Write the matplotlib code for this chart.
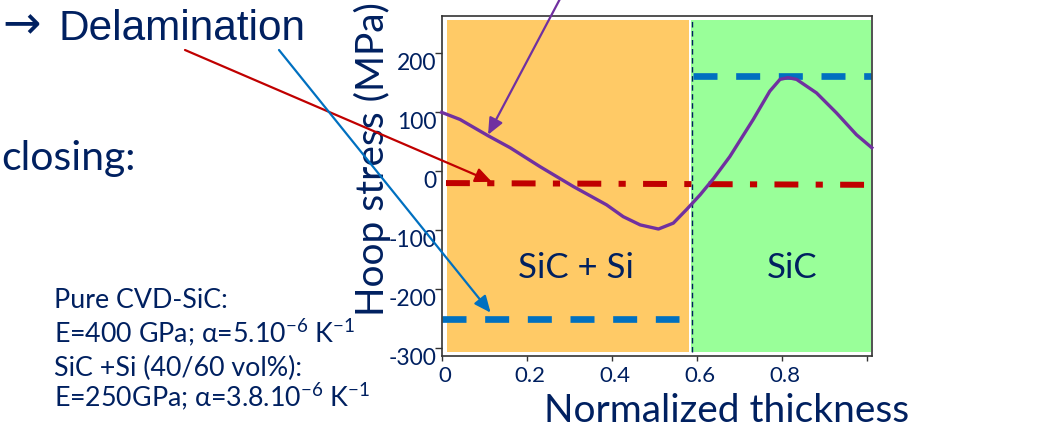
import matplotlib
matplotlib.use('Agg')
import matplotlib.pyplot as plt
from matplotlib.transforms import ScaledTranslation

# hoop stress through the normalized wall thickness (MPa)
thickness = [0.0, 0.043, 0.074, 0.11, 0.161, 0.231, 0.31, 0.388, 0.427, 0.467,
             0.51, 0.545, 0.576, 0.608, 0.64, 0.678, 0.733, 0.772, 0.796, 0.815,
             0.835, 0.882, 0.929, 0.976, 1.012]
hoop_stress = [100, 88, 75, 60, 40, 8, -26, -57, -77, -91,
               -98, -88, -65, -40, -12, 25, 88, 136, 156, 159,
               156, 133, 99, 62, 40]

# reference stress levels
red_x = [0.01, 1.011]
red_y = [-20, -23]
blue_x_1 = [0.0, 0.558]
blue_y_1 = [-250, -250]
blue_x_2 = [0.591, 1.011]
blue_y_2 = [161, 161]

# layers
layer_names = ['SiC + Si', 'SiC']
layer_start = [0.012, 0.586]
layer_end = [0.583, 1.009]
layer_label_x = [0.316, 0.824]
layer_colors = ['#FFCA66', '#99FF99']
interface_x = 0.588

yticks = [-300, -200, -100, 0, 100, 200]
xticks = [0, 0.2, 0.4, 0.6, 0.8, 1.0]
xtick_labels = ['0', '0.2', '0.4', '0.6', '0.8', '']

navy = '#002060'

plt.rcParams.update({
    'font.family': ['Lato', 'DejaVu Sans'],
    'axes.unicode_minus': False,
    'mathtext.fontset': 'custom',
    'mathtext.rm': 'Lato',
    'mathtext.it': 'Lato:italic',
    'mathtext.bf': 'Lato:bold',
})

fig = plt.figure(figsize=(10.51, 4.33), dpi=100)
ax = fig.add_axes([0.4203, 0.1778, 0.4091, 0.7859])
ax.set_xlim(0, 1.0118)
ax.set_ylim(-313.6, 264.1)

# coloured layers
for s, e, c in zip(layer_start, layer_end, layer_colors):
    ax.fill_between([s, e], -307.5, 257.4, color=c, lw=0, zorder=0)
ax.plot([interface_x, interface_x], [-307.5, 257.4], color=navy, lw=1,
        linestyle=(0, (4, 2.5)), zorder=1)

for name, x in zip(layer_names, layer_label_x):
    ax.text(x, -181, name, ha='center', va='baseline', fontsize=25, color=navy)

# reference lines
ax.plot(red_x, red_y, color='#C00000', lw=4.3, dash_capstyle='butt',
        linestyle=(0, (4.0, 2.9, 1.2, 2.9)), zorder=2)
ax.plot(blue_x_1, blue_y_1, color='#0070C0', lw=4.8, dash_capstyle='butt',
        linestyle=(0, (3.6, 2.8)), zorder=2)
ax.plot(blue_x_2, blue_y_2, color='#0070C0', lw=4.8, dash_capstyle='butt',
        linestyle=(0, (3.6, 2.8)), zorder=2)

# stress profile
ax.plot(thickness, hoop_stress, color='#7030A0', lw=2.4, zorder=3, clip_on=False,
        solid_joinstyle='round')

# axes styling
for sp in ax.spines.values():
    sp.set_color('#333333')
    sp.set_linewidth(1.2)
ax.set_xticks(xticks, xtick_labels)
ax.set_yticks(yticks)
ax.tick_params(axis='y', direction='out', length=5, width=1, pad=-1,
               labelsize=16.5, labelcolor=navy, color='#333333')
ax.tick_params(axis='x', direction='out', length=3.5, width=1, pad=4,
               labelsize=16, labelcolor=navy, color='#333333')
for lab in ax.get_yticklabels():
    lab.set_transform(lab.get_transform() + ScaledTranslation(0, -0.08, fig.dpi_scale_trans))
for lab in ax.get_xticklabels():
    lab.set_transform(lab.get_transform() + ScaledTranslation(0.03, 0, fig.dpi_scale_trans))

ax.set_xlabel('Normalized thickness', fontsize=28, color=navy, va='baseline')
ax.xaxis.set_label_coords(0.663, -0.193)
ax.set_ylabel('Hoop stress (MPa)', fontsize=28, color=navy)
ax.yaxis.set_label_coords(-0.118, 0.58)

# annotation arrows coming from the slide text
arrow_kw = dict(arrowstyle='-|>,head_length=0.5,head_width=0.22', mutation_scale=20,
                shrinkA=0, shrinkB=0)
ax.annotate('', xy=(0.118, -18), xytext=(185, 383), textcoords='figure pixels',
            arrowprops=dict(color='#C00000', lw=1.6, **arrow_kw), annotation_clip=False)
ax.annotate('', xy=(0.115, -240), xytext=(279, 383), textcoords='figure pixels',
            arrowprops=dict(color='#0070C0', lw=1.6, **arrow_kw), annotation_clip=False)
ax.annotate('', xy=(0.109, 62), xytext=(561, 436), textcoords='figure pixels',
            arrowprops=dict(color='#7030A0', lw=1.6, **arrow_kw), annotation_clip=False)

# slide text around the chart
fig.text(2 / 1051, 1 - 38 / 433, '\u2192', fontsize=33, color=navy,
         va='baseline', ha='left', family='DejaVu Sans')
fig.text(58 / 1051, 1 - 40 / 433, 'Delamination', fontsize=30.5, color=navy,
         va='baseline', ha='left', family=['Liberation Sans', 'DejaVu Sans'])
fig.text(1 / 1051, 1 - 170 / 433, 'closing:', fontsize=29.5, color=navy,
         va='baseline', ha='left')

info_lines = ['Pure CVD-SiC:',
              r'E=400 GPa; $\mathrm{\alpha}$=5.10$^{-6}$ K$^{-1}$',
              'SiC +Si (40/60 vol%):',
              r'E=250GPa; $\mathrm{\alpha}$=3.8.10$^{-6}$ K$^{-1}$']
info_baselines = [308, 343, 376, 407]
for line, b in zip(info_lines, info_baselines):
    fig.text(54 / 1051, 1 - b / 433, line, fontsize=19.3, color=navy,
             va='baseline', ha='left')

fig.savefig('out.png', dpi=100)
